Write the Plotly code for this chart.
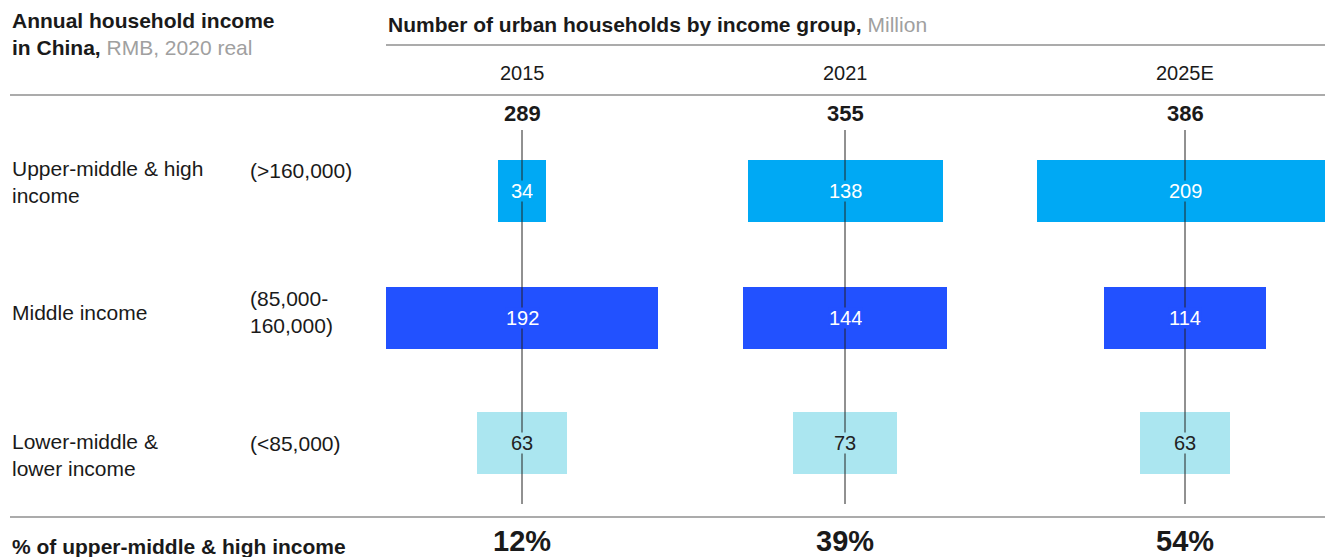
import plotly.graph_objects as go

# ---- data (million urban households) ----
years = ["2015", "2021", "2025E"]
group_labels = ["Upper-middle & high<br>income", "Middle income", "Lower-middle &<br>lower income"]
income_ranges = ["(>160,000)", "(85,000-<br>160,000)", "(<85,000)"]
upper_high = [34, 138, 209]
middle = [192, 144, 114]
lower = [63, 73, 63]

# ---- layout constants ----
W, H = 1325, 557
FONT = "Arial, 'Liberation Sans', sans-serif"
TEXT = "#1a1a1a"
GREY = "#a0a0a0"
RULE = "#8f8f8f"
COLORS = ["#00a9f4", "#2251ff", "#abe6f0"]
VALUE_TEXT = ["#ffffff", "#ffffff", "#222222"]
COL_CX = [522, 845, 1185]        # column centre lines, px
ROW_CY = [191, 318, 443]         # row centres, px (y axis runs in px)
BAR_H = 62
PX_PER_UNIT = 1.413              # bar length scale, px per million households
HALF = 160

series = [upper_high, middle, lower]
totals = [sum(s[i] for s in series) for i in range(len(years))]
shares = [round(100 * upper_high[i] / totals[i]) for i in range(len(years))]

fig = go.Figure()
layout_axes = {}
shapes = []
annotations = []

for i, year in enumerate(years):
    cx = COL_CX[i]
    d0, d1 = max(0, cx - HALF), min(W, cx + HALF)
    ax = "x" if i == 0 else f"x{i + 1}"
    key = "xaxis" if i == 0 else f"xaxis{i + 1}"
    layout_axes[key] = dict(
        domain=[d0 / W, d1 / W],
        range=[(d0 - cx) / PX_PER_UNIT, (d1 - cx) / PX_PER_UNIT],
        visible=False, fixedrange=True, anchor="y",
    )
    for g, vals in enumerate(series):
        v = vals[i]
        fig.add_trace(go.Bar(
            orientation="h", x=[v], base=[-v / 2], y=[ROW_CY[g]], width=BAR_H,
            marker=dict(color=COLORS[g], line=dict(width=0)),
            xaxis=ax, yaxis="y", showlegend=False, hoverinfo="skip",
        ))
        annotations.append(dict(
            xref=ax, yref="y", x=0, y=ROW_CY[g], text=str(v), showarrow=False,
            font=dict(family=FONT, size=20, color=VALUE_TEXT[g]),
            bgcolor=COLORS[g], borderpad=0, height=20,
            xanchor="center", yanchor="middle",
        ))
    # centre line through the column
    shapes.append(dict(type="line", xref=ax, yref="y", x0=0, x1=0, y0=130, y1=504,
                       line=dict(color="#222222", width=1), layer="above"))
    # year header, total and share
    annotations.append(dict(xref="paper", yref="y", x=cx / W, y=73, text=year,
                            showarrow=False, xanchor="center", yanchor="middle",
                            font=dict(family=FONT, size=20, color=TEXT)))
    annotations.append(dict(xref="paper", yref="y", x=cx / W, y=113, text=f"<b>{totals[i]}</b>",
                            showarrow=False, xanchor="center", yanchor="middle",
                            font=dict(family=FONT, size=22, color=TEXT)))
    annotations.append(dict(xref="paper", yref="y", x=cx / W, y=541, text=f"<b>{shares[i]}%</b>",
                            showarrow=False, xanchor="center", yanchor="middle", height=30,
                            font=dict(family=FONT, size=29, color=TEXT)))

# row labels
LABEL_CY = [182, 312, 455]
RANGE_CY = [170, 312, 443]
for g in range(3):
    annotations.append(dict(xref="paper", yref="y", x=10 / W, y=LABEL_CY[g], text=group_labels[g],
                            showarrow=False, xanchor="left", yanchor="middle", align="left",
                            font=dict(family=FONT, size=21, color=TEXT)))
    annotations.append(dict(xref="paper", yref="y", x=248 / W, y=RANGE_CY[g], text=income_ranges[g],
                            showarrow=False, xanchor="left", yanchor="middle", align="left",
                            font=dict(family=FONT, size=21, color=TEXT)))

# headers
annotations.append(dict(
    xref="paper", yref="y", x=10 / W, y=34,
    text=f"<b>Annual household income</b><br><b>in China,</b> <span style='color:{GREY}'>RMB, 2020 real</span>",
    showarrow=False, xanchor="left", yanchor="middle", align="left",
    font=dict(family=FONT, size=21, color=TEXT)))
annotations.append(dict(
    xref="paper", yref="y", x=386 / W, y=24,
    text=f"<b>Number of urban households by income group,</b> <span style='color:{GREY}'>Million</span>",
    showarrow=False, xanchor="left", yanchor="middle",
    font=dict(family=FONT, size=21, color=TEXT)))
annotations.append(dict(
    xref="paper", yref="y", x=10 / W, y=546,
    text="<b>% of upper-middle & high income</b>",
    showarrow=False, xanchor="left", yanchor="middle",
    font=dict(family=FONT, size=21, color=TEXT)))

# horizontal rules
for x0, y in [(386, 45), (10, 95), (10, 517)]:
    shapes.append(dict(type="line", xref="paper", yref="y", x0=x0 / W, x1=1, y0=y, y1=y,
                       line=dict(color=RULE, width=1.5)))

fig.update_layout(
    width=W, height=H, margin=dict(l=0, r=0, t=0, b=0),
    paper_bgcolor="white", plot_bgcolor="white",
    barmode="overlay", bargap=0,
    yaxis=dict(range=[H, 0], domain=[0, 1], visible=False, fixedrange=True),
    shapes=shapes, annotations=annotations,
    font=dict(family=FONT, color=TEXT),
    **layout_axes,
)

fig.write_html("out.html", config={"displayModeBar": False})
